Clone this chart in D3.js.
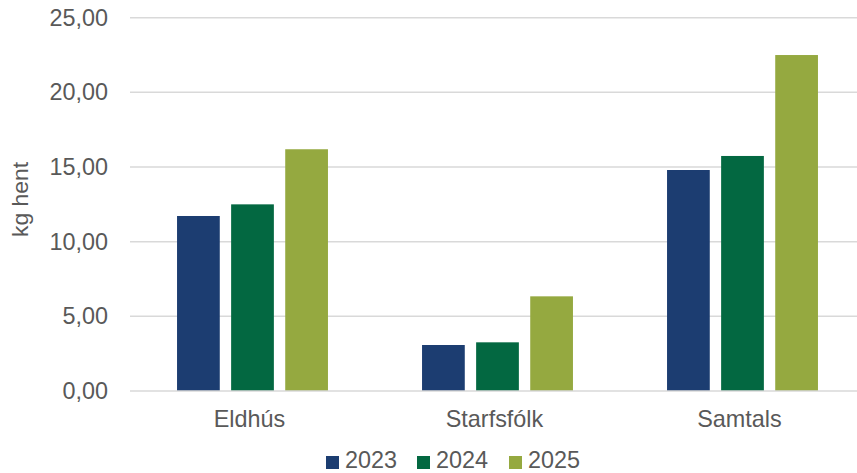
<!DOCTYPE html>
<html>
<head>
<meta charset="utf-8">
<script src="https://cdn.jsdelivr.net/npm/d3@7"></script>
<style>
  html, body { margin: 0; padding: 0; background: #fff; }
  svg text { font-family: "Liberation Sans", Arial, sans-serif; fill: #595959; }
</style>
</head>
<body>
<svg id="chart" width="857" height="473"></svg>
<script>
const categories = ["Eldhús", "Starfsfólk", "Samtals"];
const seriesNames = ["2023", "2024", "2025"];
const values2023 = [11.72, 3.08, 14.80];
const values2024 = [12.50, 3.26, 15.74];
const values2025 = [16.19, 6.34, 22.50];
const seriesColors = ["#1c3d71", "#036841", "#95a940"];
const yTicks = [0, 5, 10, 15, 20, 25];
const yTitle = "kg hent";

const seriesValues = [values2023, values2024, values2025];

const svg = d3.select("#chart");
const plot = { left: 130, right: 865, top: 17.7, bottom: 391 };

const y = d3.scaleLinear().domain([0, 25]).range([plot.bottom, plot.top]);
const x0 = d3.scaleBand().domain(categories).range([plot.left, plot.right]).paddingInner(0.384).paddingOuter(0.192);
const x1 = d3.scaleBand().domain(seriesNames).range([0, x0.bandwidth()]).paddingInner(0.21);

const fmt = v => d3.format(".2f")(v).replace(".", ",");

// gridlines
svg.append("g").selectAll("line").data(yTicks.filter(t => t > 0)).join("line")
  .attr("x1", plot.left).attr("x2", plot.right)
  .attr("y1", d => y(d)).attr("y2", d => y(d))
  .attr("stroke", "#d9d9d9").attr("stroke-width", 1.5);

// y axis labels via d3 axis
const yAxis = d3.axisLeft(y).tickValues(yTicks).tickFormat(fmt).tickSize(0).tickPadding(22);
const gy = svg.append("g").attr("transform", `translate(${plot.left},0)`).call(yAxis);
gy.select(".domain").remove();
gy.selectAll("text").style("font-size", "23.4px").attr("fill", "#595959")
  .style("font-family", "'Liberation Sans', Arial, sans-serif");

// bars
const groups = svg.append("g").selectAll("g").data(categories).join("g")
  .attr("transform", d => `translate(${x0(d)},0)`);
groups.selectAll("rect")
  .data((c, i) => seriesNames.map((s, j) => ({ s, v: seriesValues[j][i], j })))
  .join("rect")
  .attr("x", d => x1(d.s))
  .attr("width", x1.bandwidth())
  .attr("y", d => y(d.v))
  .attr("height", d => y(0) - y(d.v))
  .attr("fill", d => seriesColors[d.j]);

// baseline
svg.append("line").attr("x1", plot.left).attr("x2", plot.right)
  .attr("y1", y(0)).attr("y2", y(0)).attr("stroke", "#d9d9d9").attr("stroke-width", 1.5);

// x axis labels
const xAxis = d3.axisBottom(x0).tickSize(0).tickPadding(19);
const gx = svg.append("g").attr("transform", `translate(0,${plot.bottom})`).call(xAxis);
gx.select(".domain").remove();
gx.selectAll("text").style("font-size", "23.4px").attr("fill", "#595959").attr("dx", -3)
  .style("font-family", "'Liberation Sans', Arial, sans-serif");

// y title
svg.append("text")
  .attr("transform", `translate(28,199.5) rotate(-90)`)
  .attr("text-anchor", "middle")
  .style("font-size", "22.9px")
  .text(yTitle);

// legend
const legendX = [326, 417, 509];
const legend = svg.append("g").selectAll("g").data(seriesNames).join("g")
  .attr("transform", (d, i) => `translate(${legendX[i]},0)`);
legend.append("rect").attr("x", 0).attr("y", 456).attr("width", 13).attr("height", 13)
  .attr("fill", (d, i) => seriesColors[i]);
legend.append("text").attr("x", 19).attr("y", 468).style("font-size", "23.4px").text(d => d);
</script>
</body>
</html>
